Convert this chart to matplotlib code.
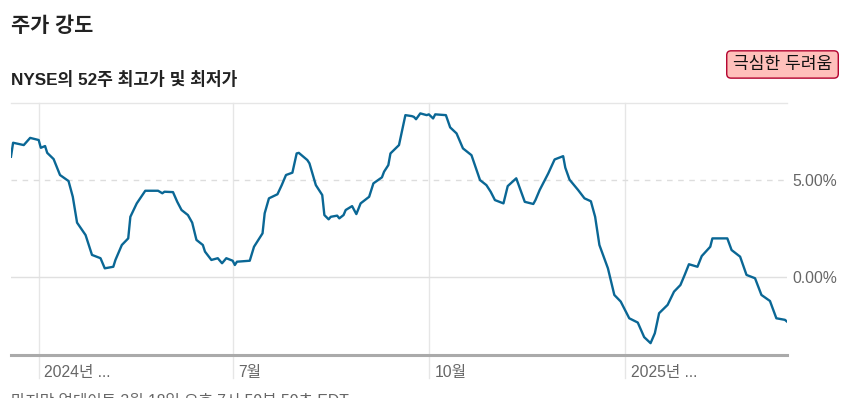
import matplotlib
matplotlib.use("Agg")
import matplotlib.pyplot as plt
import matplotlib.transforms as mtransforms
import pandas as pd

plt.rcParams['font.family'] = ['Liberation Sans', 'Noto Sans CJK KR', 'DejaVu Sans']

# NYSE 52주 신고가-신저가 (%), 날짜별
dates = [
    "2024-03-19", "2024-03-20", "2024-03-25", "2024-03-28", "2024-04-01", "2024-04-02",
    "2024-04-04", "2024-04-05", "2024-04-08", "2024-04-11", "2024-04-15", "2024-04-17",
    "2024-04-19", "2024-04-23", "2024-04-26", "2024-04-30", "2024-05-02", "2024-05-06",
    "2024-05-07", "2024-05-10", "2024-05-13", "2024-05-14", "2024-05-17", "2024-05-21",
    "2024-05-27", "2024-05-29", "2024-05-30", "2024-06-03", "2024-06-05", "2024-06-07",
    "2024-06-10", "2024-06-12", "2024-06-14", "2024-06-17", "2024-06-18", "2024-06-21",
    "2024-06-24", "2024-06-26", "2024-06-28", "2024-07-01", "2024-07-02", "2024-07-03",
    "2024-07-09", "2024-07-11", "2024-07-15", "2024-07-16", "2024-07-18", "2024-07-22",
    "2024-07-24", "2024-07-26", "2024-07-29", "2024-07-31", "2024-08-01", "2024-08-05",
    "2024-08-06", "2024-08-09", "2024-08-12", "2024-08-13", "2024-08-15", "2024-08-16",
    "2024-08-19", "2024-08-20", "2024-08-22", "2024-08-23", "2024-08-26", "2024-08-28",
    "2024-08-30", "2024-09-03", "2024-09-05", "2024-09-09", "2024-09-10", "2024-09-12",
    "2024-09-13", "2024-09-17", "2024-09-20", "2024-09-23", "2024-09-24", "2024-09-25",
    "2024-09-27", "2024-09-30", "2024-10-01", "2024-10-03", "2024-10-04", "2024-10-09",
    "2024-10-11", "2024-10-14", "2024-10-17", "2024-10-21", "2024-10-25", "2024-10-28",
    "2024-10-30", "2024-11-01", "2024-11-05", "2024-11-07", "2024-11-11", "2024-11-13",
    "2024-11-15", "2024-11-19", "2024-11-20", "2024-11-22", "2024-11-26", "2024-11-29",
    "2024-12-03", "2024-12-04", "2024-12-06", "2024-12-10", "2024-12-13", "2024-12-16",
    "2024-12-18", "2024-12-20", "2024-12-24", "2024-12-27", "2024-12-30", "2025-01-03",
    "2025-01-07", "2025-01-10", "2025-01-13", "2025-01-15", "2025-01-17", "2025-01-21",
    "2025-01-24", "2025-01-27", "2025-01-29", "2025-01-31", "2025-02-04", "2025-02-06",
    "2025-02-10", "2025-02-11", "2025-02-18", "2025-02-20", "2025-02-24", "2025-02-27",
    "2025-03-03", "2025-03-06", "2025-03-10", "2025-03-13", "2025-03-17", "2025-03-18",
]
values = [
    6.20, 6.92, 6.80, 7.17, 7.06, 6.66,
    6.75, 6.40, 6.08, 5.26, 4.95, 4.14,
    2.81, 2.17, 1.15, 0.98, 0.46, 0.54,
    0.89, 1.66, 2.00, 3.11, 3.80, 4.45,
    4.45, 4.32, 4.40, 4.38, 3.88, 3.46,
    3.20, 2.81, 1.92, 1.66, 1.32, 0.89,
    0.98, 0.72, 0.98, 0.85, 0.63, 0.80,
    0.85, 1.57, 2.26, 3.29, 4.06, 4.27,
    4.74, 5.26, 5.38, 6.37, 6.40, 6.03,
    5.86, 4.74, 4.23, 3.20, 2.98, 3.11,
    3.17, 3.03, 3.20, 3.46, 3.66, 3.25,
    3.80, 4.14, 4.83, 5.14, 5.43, 5.77,
    6.37, 6.80, 8.34, 8.29, 8.25, 8.13,
    8.43, 8.34, 8.38, 8.17, 8.38, 8.34,
    7.71, 7.40, 6.63, 6.28, 5.00, 4.74,
    4.40, 3.97, 3.80, 4.69, 5.09, 4.49,
    3.88, 3.77, 3.97, 4.49, 5.34, 6.06,
    6.23, 5.64, 5.02, 4.49, 4.06, 3.91,
    3.11, 1.66, 0.46, -0.91, -1.25, -2.11,
    -2.33, -3.08, -3.39, -2.88, -1.85, -1.42,
    -0.74, -0.40, 0.12, 0.67, 0.54, 1.09,
    1.57, 2.00, 2.00, 1.40, 1.06, 0.12,
    -0.05, -0.91, -1.22, -2.11, -2.19, -2.28,
]

x_ticks = ["2024-04-01", "2024-07-01", "2024-10-01", "2025-01-01"]
x_labels = ["2024년 ...", "7월", "10월", "2025년 ..."]
y_ticks = [0, 5]
y_labels = ["0.00%", "5.00%"]

title = "주가 강도"
subtitle = "NYSE의 52주 최고가 및 최저가"
badge = "극심한 두려움"
footer = "마지막 업데이트 3월 18일 오후 7시 59분 59초 EDT"

df = pd.DataFrame({"date": pd.to_datetime(dates), "value": values})
tick_dates = pd.to_datetime(x_ticks)

fig = plt.figure(figsize=(8.5, 3.98), dpi=100)
ax = fig.add_axes([0.0129, 0.108, 0.913, 0.6325])

# 격자
for d in tick_dates:
    ax.axvline(d, ymin=-0.09, ymax=1, color="#e6e6e6", lw=1, clip_on=False, zorder=0)
ax.axhline(0, color="#e0e0e0", lw=1, zorder=0)
ax.axhline(5, color="#dddddd", lw=1, ls=(0, (4, 4)), zorder=0)

ax.plot(df["date"], df["value"], color="#0a6795", lw=1.7, zorder=3)

ax.set_xlim(df["date"].iloc[0], df["date"].iloc[-1])
ax.set_ylim(-4, 8.95)

for s in ["left", "right"]:
    ax.spines[s].set_visible(False)
ax.spines["top"].set_color("#e6e6e6")
ax.spines["top"].set_linewidth(1)
ax.spines["bottom"].set_color("#aaaaaa")
ax.spines["bottom"].set_linewidth(2.2)

ax.set_xticks(tick_dates)
ax.set_xticklabels(x_labels, ha="left", fontsize=11.3, color="#666666")
ax.tick_params(axis="x", length=0, pad=7)
shift = mtransforms.ScaledTranslation(4 / 72, 0, fig.dpi_scale_trans)
for lab in ax.get_xticklabels():
    lab.set_transform(lab.get_transform() + shift)

ax.yaxis.tick_right()
ax.set_yticks(y_ticks)
ax.set_yticklabels(y_labels, fontsize=11.3, color="#666666")
ax.tick_params(axis="y", length=0, pad=4)

fig.text(0.0129, 0.935, title, fontsize=15, fontweight="bold", color="#222222", va="center")
fig.text(0.0129, 0.8, subtitle, fontsize=12.3, fontweight="bold", color="#222222", va="center")
fig.text(0.9206, 0.838, badge, fontsize=12.3, fontweight="medium", color="#111111",
         ha="center", va="center",
         bbox=dict(boxstyle="round,pad=0.36,rounding_size=0.25", fc="#ffc0bb", ec="#b3002d", lw=1))
fig.text(0.0129, -0.008, footer, fontsize=11.3, color="#666666", va="center")

fig.savefig("out.png", dpi=100)
